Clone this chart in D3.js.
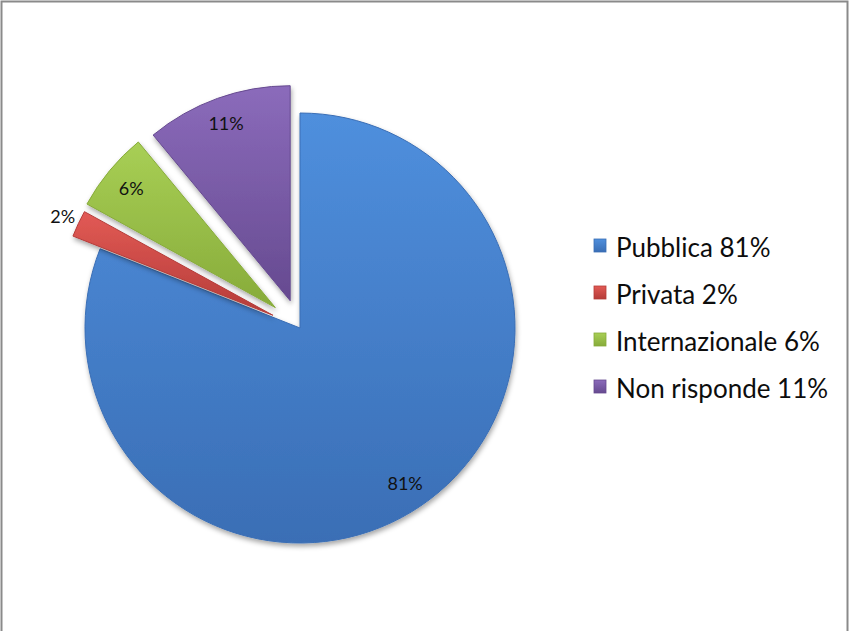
<!DOCTYPE html>
<html lang="it">
<head>
  <meta charset="UTF-8">
  <title>Pubblica / Privata / Internazionale</title>
  <script src="https://d3js.org/d3.v7.min.js"></script>
  <style>
    body { margin: 0; background: #fff; font-family: Lato, "Open Sans", sans-serif; }
    .label { font-size: 18px; fill: #111; }
    .legend text { font-size: 26px; fill: #0d0d0d; }
  </style>
</head>
<body>
  <svg id="chart"></svg>
  <script>
    // data
    const categories = ["Pubblica", "Privata", "Internazionale", "Non risponde"];
    const values = [81, 2, 6, 11];
    const topColors = ["#4f8fdd", "#e25a55", "#a8cf55", "#8b6bbb"];
    const bottomColors = ["#3a6eb5", "#b53c39", "#87ab3a", "#664a90"];

    const width = 849, height = 631;
    const cx = 300, cy = 328, radius = 215;
    const explode = [0, 30, 32, 29];
    const labelRadius = [0.87, 1.08, 0.87, 0.88];

    const svg = d3.select("#chart")
      .attr("width", width)
      .attr("height", height);

    // outer frame
    svg.append("rect")
      .attr("x", 1.5).attr("y", 1.5)
      .attr("width", 846).attr("height", 660)
      .attr("fill", "#fff")
      .attr("stroke", "#8a8a8a")
      .attr("stroke-width", 2);

    const defs = svg.append("defs");

    const shadow = defs.append("filter")
      .attr("id", "shadow")
      .attr("x", "-20%").attr("y", "-20%")
      .attr("width", "140%").attr("height", "140%");
    shadow.append("feDropShadow")
      .attr("dx", 1).attr("dy", 3)
      .attr("stdDeviation", 2.5)
      .attr("flood-color", "#000")
      .attr("flood-opacity", 0.35);

    categories.forEach((c, i) => {
      const g = defs.append("linearGradient")
        .attr("id", "grad" + i)
        .attr("x1", 0).attr("y1", 0)
        .attr("x2", 0).attr("y2", 1);
      g.append("stop").attr("offset", "0%").attr("stop-color", topColors[i]);
      g.append("stop").attr("offset", "100%").attr("stop-color", bottomColors[i]);
    });

    const pie = d3.pie().sort(null).value(d => d);
    const arcs = pie(values);

    const arc = d3.arc().innerRadius(0).outerRadius(radius);

    const pieG = svg.append("g")
      .attr("transform", `translate(${cx},${cy})`);

    const slices = pieG.selectAll("g.slice")
      .data(arcs)
      .enter()
      .append("g")
      .attr("class", "slice")
      .attr("transform", (d, i) => {
        const a = (d.startAngle + d.endAngle) / 2;
        return `translate(${Math.sin(a) * explode[i]},${-Math.cos(a) * explode[i]})`;
      });

    slices.append("path")
      .attr("d", arc)
      .attr("fill", (d, i) => `url(#grad${i})`)
      .attr("stroke", (d, i) => bottomColors[i])
      .attr("stroke-width", 1)
      .attr("filter", "url(#shadow)");

    slices.append("text")
      .attr("class", "label")
      .attr("text-anchor", "middle")
      .attr("dominant-baseline", "central")
      .attr("transform", (d, i) => {
        const a = (d.startAngle + d.endAngle) / 2;
        const r = radius * labelRadius[i];
        return `translate(${Math.sin(a) * r},${-Math.cos(a) * r})`;
      })
      .text(d => d.value + "%");

    // legend
    const legend = svg.append("g")
      .attr("class", "legend")
      .attr("transform", "translate(594,239)");

    const rowY = d3.scalePoint()
      .domain(categories)
      .range([0, 141]);

    const items = legend.selectAll("g")
      .data(categories)
      .enter()
      .append("g")
      .attr("transform", d => `translate(0,${rowY(d)})`);

    items.append("rect")
      .attr("width", 12).attr("height", 13)
      .attr("fill", (d, i) => `url(#grad${i})`)
      .attr("stroke", (d, i) => bottomColors[i])
      .attr("stroke-width", 0.8);

    items.append("text")
      .attr("x", 22)
      .attr("y", 8)
      .attr("dominant-baseline", "central")
      .text((d, i) => `${d} ${values[i]}%`);
  </script>
</body>
</html>
